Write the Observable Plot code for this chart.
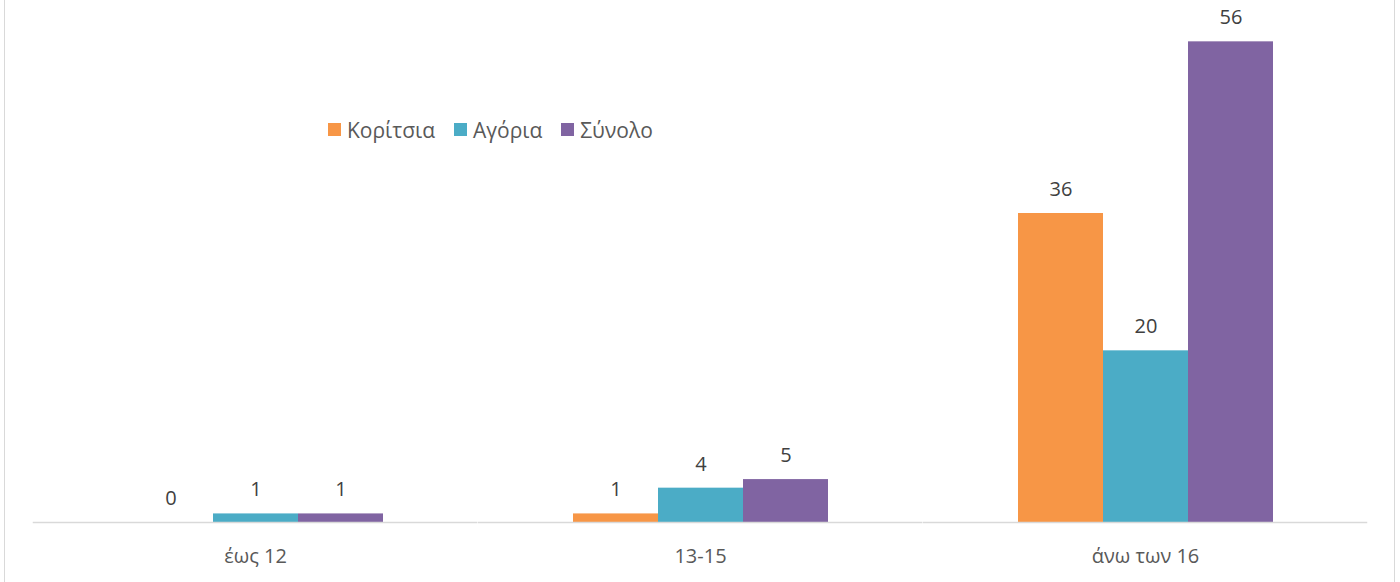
<!DOCTYPE html>
<html><head><meta charset="utf-8">
<script src="https://cdn.jsdelivr.net/npm/d3@7"></script>
<script src="https://cdn.jsdelivr.net/npm/@observablehq/plot@0.6"></script>
<style>
body{margin:0;background:#fff;font-family:"Open Sans",sans-serif;}
#wrap{position:relative;width:1400px;height:582px;overflow:hidden;}
#frame{position:absolute;left:4px;top:-2px;width:1389px;height:590px;border-left:1.5px solid #d9d9d9;border-right:1.5px solid #d9d9d9;pointer-events:none;}
#legend{position:absolute;left:328px;top:113px;}
#legend svg{margin-right:6px !important;}
#legend > div > span{margin-right:19px !important;}
#chart{position:absolute;left:0;top:0;}
</style></head><body><div id="wrap"><div id="chart"></div><div id="frame"></div><div id="legend"></div></div>
<script>
const categories = ["έως 12", "13-15", "άνω των 16"];
const series = ["Κορίτσια", "Αγόρια", "Σύνολο"];
const colors = ["#F79646", "#4BACC6", "#8064A2"];
const girls = [0, 1, 36];
const boys = [1, 4, 20];
const total = [1, 5, 56];
const yDomain = [0, 60];

const values = [girls, boys, total];
const data = [];
categories.forEach((c, i) => {
  series.forEach((s, j) => data.push({cat: c, series: s, value: values[j][i]}));
});

const W = 1400, mL = 33, mR = 32;
const padIn = 0.4236, padOut = padIn / 2;
const step = (W - mL - mR) / (categories.length - padIn + 2 * padOut);
const gapHalf = step * padIn / 2;

const chart = Plot.plot({
  width: W, height: 582,
  marginLeft: mL, marginRight: mR, marginTop: 7, marginBottom: 60,
  style: {fontFamily: "Open Sans, sans-serif", background: "transparent"},
  fx: {domain: categories, paddingInner: padIn, paddingOuter: padOut, label: null},
  x: {domain: series, padding: 0, axis: null},
  y: {domain: yDomain, axis: null},
  color: {domain: series, range: colors},
  marks: [
    Plot.barY(data, {fx: "cat", x: "series", y: "value", fill: "series"}),
    Plot.ruleY([0], {stroke: "#d9d9d9", strokeWidth: 1.5, insetLeft: -gapHalf, insetRight: -gapHalf}),
    Plot.text(data, {fx: "cat", x: "series", y: "value", text: d => String(d.value), dy: -24, fill: "#404040", fontSize: 20}),
    Plot.axisFx({anchor: "bottom", tickSize: 0, tickPadding: 26, fontSize: 20, fill: "#595959", label: null})
  ]
});
document.getElementById("chart").appendChild(chart);

const legend = Plot.legend({
  color: {domain: series, range: colors},
  swatchSize: 13,
  style: {fontFamily: "Open Sans, sans-serif", fontSize: "21px", color: "#595959"}
});
document.getElementById("legend").appendChild(legend);
</script></body></html>
